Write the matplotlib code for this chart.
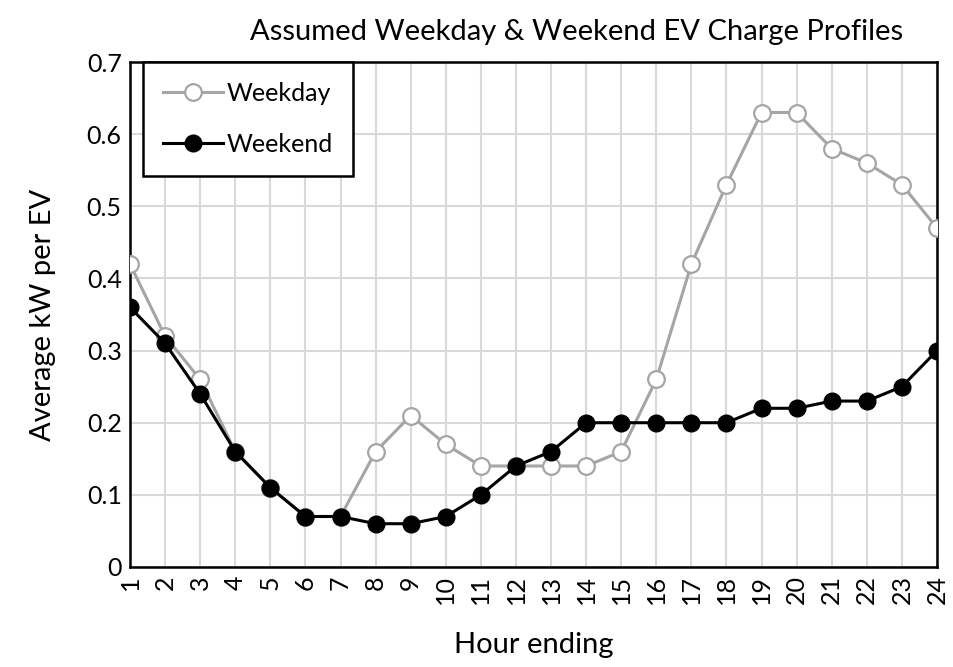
import numpy as np
import matplotlib
matplotlib.use("Agg")
import matplotlib.pyplot as plt

plt.rcParams['font.family'] = ['Lato', 'DejaVu Sans']

hours = list(range(1, 25))
weekday = [0.42, 0.32, 0.26, 0.16, 0.11, 0.07, 0.07, 0.16, 0.21, 0.17, 0.14, 0.14,
           0.14, 0.14, 0.16, 0.26, 0.42, 0.53, 0.63, 0.63, 0.58, 0.56, 0.53, 0.47]
weekend = [0.36, 0.31, 0.24, 0.16, 0.11, 0.07, 0.07, 0.06, 0.06, 0.07, 0.10, 0.14,
           0.16, 0.20, 0.20, 0.20, 0.20, 0.20, 0.22, 0.22, 0.23, 0.23, 0.25, 0.30]

fig = plt.figure(figsize=(9.54, 6.67), dpi=100)
ax = fig.add_axes([130 / 954, 1 - 567 / 667, (937 - 130) / 954, (567 - 62) / 667])

ax.plot(hours, weekday, color='#a5a5a5', lw=2.2, marker='o', ms=12,
        mfc='white', mec='#a5a5a5', mew=1.6, label='Weekday', zorder=3)
ax.plot(hours, weekend, color='black', lw=2.2, marker='o', ms=12,
        mfc='black', mec='black', label='Weekend', zorder=4)

ax.set_xlim(1, 24)
ax.set_ylim(0, 0.7)
ax.set_xticks(hours)
ax.set_xticklabels([str(h) for h in hours], rotation=90)
ax.set_yticks(np.arange(0, 0.71, 0.1))
ax.set_yticklabels(['0'] + ['%.1f' % v for v in np.arange(0.1, 0.71, 0.1)])
ax.tick_params(length=0, labelsize=18, pad=6)
ax.grid(True, color='#d9d9d9', lw=1.5)
ax.set_axisbelow(True)
for s in ax.spines.values():
    s.set_linewidth(1.8)
    s.set_color('black')

ax.set_ylabel('Average kW per EV', fontsize=21, labelpad=22)
ax.set_xlabel('Hour ending', fontsize=21, labelpad=20)

fig.text(577 / 954, 1 - 32 / 667, 'Assumed Weekday & Weekend EV Charge Profiles',
         fontsize=21, ha='center', va='center')

leg = ax.legend(loc='upper left', bbox_to_anchor=(13 / 807, 1.0), fontsize=18,
                borderaxespad=0, frameon=True, fancybox=False, framealpha=1,
                edgecolor='black', handlelength=2.4, labelspacing=1.1,
                borderpad=0.8, handletextpad=0.15)
leg.get_frame().set_linewidth(1.8)

fig.savefig('out.png', dpi=100)
